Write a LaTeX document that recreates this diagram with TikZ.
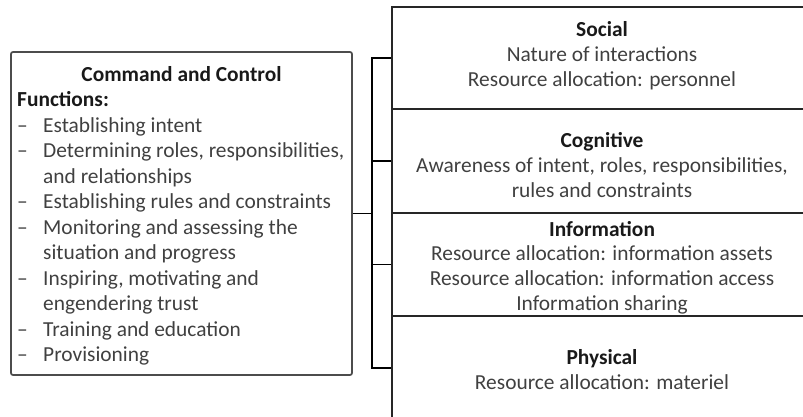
\documentclass[tikz,border=0pt]{standalone}
\usepackage{fontspec}
\setmainfont{Carlito}
\begin{document}
\begin{tikzpicture}[x=1pt,y=-1pt,
  frame/.style={draw=black!85, line width=1.7pt, rectangle, inner sep=0pt},
  txt/.style={text=black!75, font=\fontsize{21.4}{25}\selectfont, inner sep=0pt, anchor=base},
  head/.style={txt, text=black!90, font=\fontsize{21.4}{25}\selectfont\bfseries},
  item/.style={txt, anchor=base west},
  link/.style={draw=black, line width=1.6pt}]
\useasboundingbox (0,0) rectangle (803,416);
\clip (0,0) rectangle (803,416);

% command and control box
\node[frame, draw=black!70, rounded corners=2pt, minimum width=341, minimum height=323] (cc) at (181.5,213.5) {};
% domain boxes
\node[frame, minimum width=420, minimum height=102] (social) at (602,58) {};
\node[frame, minimum width=420, minimum height=104] (cognitive) at (602,161) {};
\node[frame, minimum width=420, minimum height=103] (info) at (602,264.5) {};
\node[frame, minimum width=420, minimum height=104] (physical) at (602,368) {};

% bracket connecting the box to the domains
\coordinate (bx) at (372,213.5);
\draw[link] (cc.east) -- (bx);
\draw[link] (social.west) -| (bx) |- (physical.west);
\draw[link] (cognitive.west) -- (cognitive.west -| bx);
\draw[link] (info.west) -- (info.west -| bx);

% left box text
\node[head] (ccT) at (181.5,81) {Command and Control};
\node[head, anchor=base west] (fnT) at (17,106.5) {Functions:};
\node[item] (d1) at (17,132) {–};   \node[item] (l1) at (43,132) {Establishing intent};
\node[item] (d2) at (17,157.5) {–}; \node[item] (l2) at (43,157.5) {Determining roles, responsibilities,};
\node[item] (l3) at (43,183) {and relationships};
\node[item] (d4) at (17,208.5) {–}; \node[item] (l4) at (43,208.5) {Establishing rules and constraints};
\node[item] (d5) at (17,234) {–};   \node[item] (l5) at (43,234) {Monitoring and assessing the};
\node[item] (l6) at (43,259.5) {situation and progress};
\node[item] (d7) at (17,285) {–};   \node[item] (l7) at (43,285) {Inspiring, motivating and};
\node[item] (l8) at (43,310.5) {engendering trust};
\node[item] (d9) at (17,336) {–};   \node[item] (l9) at (43,336) {Training and education};
\node[item] (d10) at (17,361.5) {–}; \node[item] (l10) at (43,361.5) {Provisioning};

% domain texts
\node[head] (sT) at (602,36) {Social};
\node[txt] (s1) at (602,61) {Nature of interactions};
\node[txt] (s2) at (602,86) {Resource allocation: personnel};

\node[head] (cT) at (602,147) {Cognitive};
\node[txt] (c1) at (602,172) {Awareness of intent, roles, responsibilities,};
\node[txt] (c2) at (602,197) {rules and constraints};

\node[head] (iT) at (602,236) {Information};
\node[txt] (i1) at (602,260.5) {Resource allocation: information assets};
\node[txt] (i2) at (602,285) {Resource allocation: information access};
\node[txt] (i3) at (602,310) {Information sharing};

\node[head] (pT) at (602,364) {Physical};
\node[txt] (p1) at (602,389) {Resource allocation: materiel};
\end{tikzpicture}
\end{document}
